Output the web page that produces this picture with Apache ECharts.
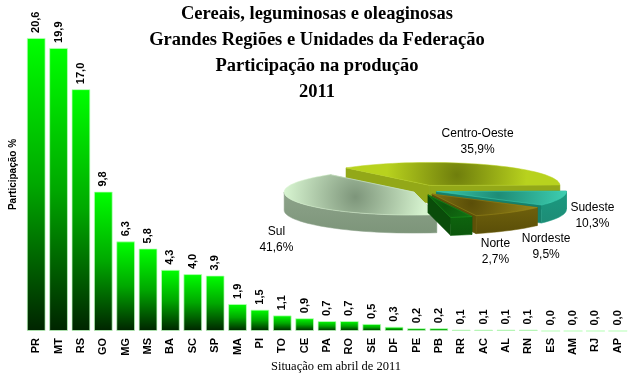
<!DOCTYPE html>
<html>
<head>
<meta charset="utf-8">
<script src="https://cdn.jsdelivr.net/npm/echarts@6/dist/echarts.min.js"></script>
<style>
  html, body { margin: 0; padding: 0; background: #fff; }
  #chart { width: 629px; height: 378px; }
</style>
</head>
<body>
<div id="chart"></div>
<script>
// unidades da federacao e participacao (%)
var ufs = ['PR', 'MT', 'RS', 'GO', 'MG', 'MS', 'BA', 'SC', 'SP', 'MA', 'PI', 'TO', 'CE', 'PA',
    'RO', 'SE', 'DF', 'PE', 'PB', 'RR', 'AC', 'AL', 'RN', 'ES', 'AM', 'RJ', 'AP'];
var participacao = [20.6, 19.9, 17.0, 9.8, 6.3, 5.8, 4.3, 4.0, 3.9, 1.9, 1.5, 1.1, 0.9, 0.7,
    0.7, 0.5, 0.3, 0.2, 0.2, 0.1, 0.1, 0.1, 0.1, 0.0, 0.0, 0.0, 0.0];

// grandes regioes
var regioes = ['Sul', 'Centro-Oeste', 'Sudeste', 'Nordeste', 'Norte'];
var regioesPct = [41.6, 35.9, 10.3, 9.5, 2.7];

function virgula(v) {
    return v.toFixed(1).replace('.', ',');
}

// pizza 3d (elipse)
var CX = 425, CY = 190, RX = 130, RY = 23, DEPTH = 18;
var EXPL_X = 12, EXPL_Y = 5;
var START = 80;
var sliceColors = {
    'Sul':          { top: '#d6f3cf', mid: '#7d957a', side: '#8da38a', cut: '#a9bea6' },
    'Centro-Oeste': { top: '#b8d21e', mid: '#6f7e0c', side: '#7f9112', cut: '#93a818' },
    'Sudeste':      { top: '#3fd0b2', mid: '#1e8c76', side: '#1a9a80', cut: '#16806a' },
    'Nordeste':     { top: '#9c8a1a', mid: '#5a4e08', side: '#6e600c', cut: '#5c5008' },
    'Norte':        { top: '#1e9c1e', mid: '#0c560c', side: '#0e640e', cut: '#0a4c0a' }
};
// deslocamento dos rotulos
var labelNudge = {
    'Sul': [-20, 38],
    'Centro-Oeste': [-6, -23],
    'Sudeste': [32, 17],
    'Nordeste': [36, 34],
    'Norte': [34, 35]
};

function renderPie(params, api) {
    var i = params.dataIndex;
    var total = regioesPct.reduce(function (a, b) { return a + b; }, 0);
    var start = START;
    for (var k = 0; k < i; k++) start += regioesPct[k] / total * 360;
    var end = start + regioesPct[i] / total * 360;
    var mid = (start + end) / 2 * Math.PI / 180;
    var ox = CX + EXPL_X * Math.cos(mid);
    var oy = CY + EXPL_Y * Math.sin(mid);
    var name = regioes[i];
    var col = sliceColors[name];

    function pt(deg, dz) {
        var r = deg * Math.PI / 180;
        return [ox + RX * Math.cos(r), oy + RY * Math.sin(r) + (dz || 0)];
    }
    function arc(a0, a1, dz) {
        var n = Math.max(4, Math.ceil((a1 - a0) / 3));
        var pts = [];
        for (var j = 0; j <= n; j++) pts.push(pt(a0 + (a1 - a0) * j / n, dz));
        return pts;
    }

    var base = Math.round((Math.sin(mid) + 1) * 50) * 10;
    var children = [];

    // faces de corte
    [start, end].forEach(function (a, n) {
        var p = pt(a, 0), q = pt(a, DEPTH);
        children.push({
            type: 'polygon',
            shape: { points: [[ox, oy], [ox, oy + DEPTH], q, p] },
            style: { fill: col.cut, stroke: col.cut, lineWidth: 0.5 },
            z2: base + 1 + n
        });
    });

    // parede externa (parte visivel)
    [[0, 180], [360, 540]].forEach(function (rng, n) {
        var a0 = Math.max(start, rng[0]), a1 = Math.min(end, rng[1]);
        if (a1 > a0) {
            var top = arc(a0, a1, 0);
            var bot = arc(a0, a1, DEPTH).reverse();
            children.push({
                type: 'polygon',
                shape: { points: top.concat(bot) },
                style: {
                    fill: new echarts.graphic.LinearGradient(0, 0, 0, 1, [
                        { offset: 0, color: col.side },
                        { offset: 1, color: col.mid }
                    ]),
                    stroke: col.side, lineWidth: 0.5
                },
                z2: base + 3 + n
            });
        }
    });

    // face superior
    var gx = ox + 0.5 * RX * Math.cos(mid), gy = oy + 0.5 * RY * Math.sin(mid);
    children.push({
        type: 'polygon',
        shape: { points: [[ox, oy]].concat(arc(start, end, 0)) },
        style: {
            fill: new echarts.graphic.RadialGradient(gx, gy, 70, [
                { offset: 0, color: col.mid },
                { offset: 1, color: col.top }
            ], true),
            stroke: col.top, lineWidth: 0.5
        },
        z2: base + 6
    });

    // rotulo
    var lx = CX + (RX + EXPL_X) * Math.cos(mid) + labelNudge[name][0];
    var ly = CY + (RY + EXPL_Y) * Math.sin(mid) + labelNudge[name][1];
    children.push({
        type: 'text',
        x: lx,
        y: ly,
        style: {
            text: name + '\n' + virgula(regioesPct[i]) + '%',
            fontFamily: 'Liberation Sans',
            fontSize: 12,
            lineHeight: 16,
            align: 'center',
            verticalAlign: 'middle',
            fill: '#000'
        },
        z2: 2000
    });

    return { type: 'group', children: children };
}

var chart = echarts.init(document.getElementById('chart'));
var option = {
    backgroundColor: '#fff',
    animation: false,
    title: {
        text: 'Cereais, leguminosas e oleaginosas\nGrandes Regiões e Unidades da Federação\nParticipação na produção\n2011',
        left: 317,
        top: 1,
        padding: 0,
        textAlign: 'center',
        textStyle: {
            fontFamily: 'Liberation Serif',
            fontWeight: 'bold',
            fontSize: 18.5,
            lineHeight: 26,
            color: '#000'
        }
    },
    grid: { left: 19, right: 0, top: 18, bottom: 47 },
    xAxis: {
        type: 'category',
        data: ufs,
        axisLine: { show: false },
        axisTick: { show: false },
        axisLabel: {
            interval: 0,
            rotate: 90,
            margin: 7,
            fontFamily: 'Liberation Sans',
            fontWeight: 'bold',
            fontSize: 11,
            color: '#000'
        }
    },
    yAxis: {
        type: 'value',
        min: 0,
        max: 22,
        name: 'Participação %',
        nameLocation: 'middle',
        nameRotate: 90,
        nameGap: 7,
        nameTextStyle: {
            fontFamily: 'Liberation Sans',
            fontWeight: 'bold',
            fontSize: 10,
            color: '#000'
        },
        axisLine: { show: false },
        axisTick: { show: false },
        axisLabel: { show: false },
        splitLine: { show: false }
    },
    graphic: [{
        type: 'text',
        x: 336,
        y: 367,
        style: {
            text: 'Situação em abril de 2011',
            fontFamily: 'Liberation Serif',
            fontSize: 12.5,
            align: 'center',
            verticalAlign: 'middle',
            fill: '#000'
        }
    }],
    series: [{
        name: 'Participação',
        type: 'bar',
        data: participacao,
        barCategoryGap: '16%',
        itemStyle: {
            color: new echarts.graphic.LinearGradient(0, 0, 0, 1, [
                { offset: 0, color: '#00ff00' },
                { offset: 0.5, color: '#00a800' },
                { offset: 1, color: '#002400' }
            ]),
            borderColor: 'rgba(190,255,190,0.7)',
            borderWidth: 1
        },
        label: {
            show: true,
            position: 'top',
            rotate: 90,
            align: 'left',
            verticalAlign: 'middle',
            distance: 5,
            fontFamily: 'Liberation Sans',
            fontWeight: 'bold',
            fontSize: 11,
            color: '#000',
            formatter: function (p) { return virgula(p.value); }
        }
    }, {
        name: 'Regiões',
        type: 'custom',
        coordinateSystem: 'none',
        renderItem: renderPie,
        data: regioesPct
    }]
};
chart.setOption(option);
</script>
</body>
</html>
